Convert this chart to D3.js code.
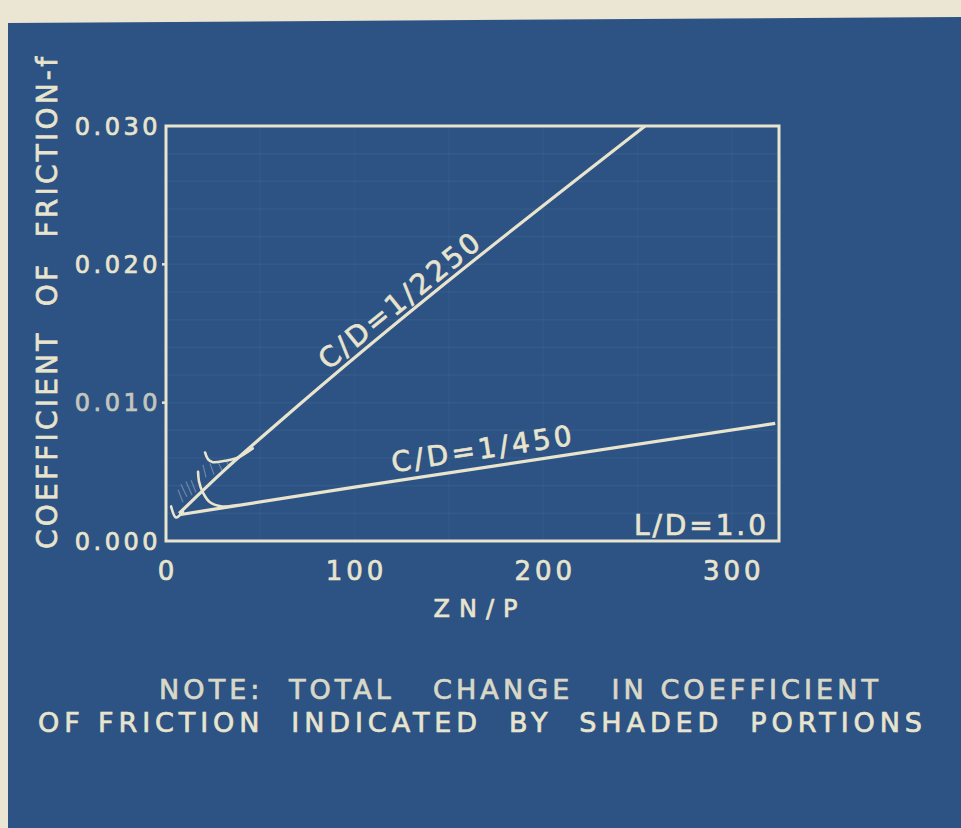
<!DOCTYPE html>
<html lang="en">
<head>
<meta charset="UTF-8">
<title>Coefficient of friction vs ZN/P</title>
<script src="https://d3js.org/d3.v7.min.js"></script>
<style>
  body { margin: 0; background: #ebe5d3; }
  svg { display: block; }
  text { font-family: 'DejaVu Sans', sans-serif; fill: #e8e4ce; stroke: #e8e4ce; stroke-width: 0.7px; }
</style>
</head>
<body>
<svg width="961" height="828"></svg>
<script>
// curve C/D = 1/2250
const zn2250 = [7, 30, 60, 254];
const f2250 = [0.0020, 0.0050, 0.0086, 0.0300];
// curve C/D = 1/450
const zn450 = [7, 30, 100, 323];
const f450 = [0.0019, 0.0024, 0.0039, 0.0085];
// hooks at the low end (total change, shaded)
const hookUpperX = [20.7, 22.3, 24.9, 31.3, 37.6, 46];
const hookUpperY = [0.0064, 0.0059, 0.0057, 0.0058, 0.0060, 0.0067];
const hookLowerX = [17.0, 17.5, 19.6, 23.3, 29.7, 38];
const hookLowerY = [0.0050, 0.0043, 0.0035, 0.0028, 0.0025, 0.0026];
const hookOriginX = [2.7, 5.3, 9.0];
const hookOriginY = [0.0025, 0.0017, 0.0021];
// hatch strokes of the shaded portions
const hatchX1 = [6.4, 7.9, 10.6, 13.3, 19.6, 23.3, 27.6, 31.8];
const hatchY1 = [0.0037, 0.0041, 0.0043, 0.0044, 0.0055, 0.0056, 0.0057, 0.0058];
const hatchX2 = [9.0, 11.1, 13.8, 15.9, 21.2, 25.5, 29.7, 33.4];
const hatchY2 = [0.0028, 0.0032, 0.0033, 0.0035, 0.0046, 0.0048, 0.0051, 0.0054];

const yTicks = [0, 0.010, 0.020, 0.030];
const yTickLabels = ["0.000", "0.010", "0.020", "0.030"];
const xTicks = [0, 100, 200, 300];
const xTickLabels = ["0", "100", "200", "300"];

const svg = d3.select("svg");
const cream = "#e8e4ce";

// paper + blueprint sheet
svg.append("rect").attr("width", 961).attr("height", 828).attr("fill", "#ebe5d3");
svg.append("path")
   .attr("d", "M8,23 L961,17 L961,828 L8,828 Z")
   .attr("fill", "#2d5384");

const plot = { left: 166, right: 779, top: 126, bottom: 541 };
const x = d3.scaleLinear().domain([0, 325]).range([plot.left, plot.right]);
const y = d3.scaleLinear().domain([0, 0.030]).range([plot.bottom, plot.top]);

// faint graph paper grid
const g = svg.append("g");
g.selectAll("line.hgrid")
 .data(d3.range(0.002, 0.030, 0.002))
 .enter().append("line")
 .attr("x1", plot.left).attr("x2", plot.right)
 .attr("y1", d => y(d)).attr("y2", d => y(d))
 .style("stroke", "#8fb0d6").style("stroke-opacity", 0.08).style("stroke-width", 1.5);
g.selectAll("line.vgrid")
 .data(d3.range(50, 325, 50))
 .enter().append("line")
 .attr("y1", plot.top).attr("y2", plot.bottom)
 .attr("x1", d => x(d)).attr("x2", d => x(d))
 .style("stroke", "#8fb0d6").style("stroke-opacity", 0.05).style("stroke-width", 1.5);

// frame
g.append("rect")
 .attr("x", plot.left).attr("y", plot.top)
 .attr("width", plot.right - plot.left).attr("height", plot.bottom - plot.top)
 .attr("fill", "none").style("stroke", cream).style("stroke-width", 3);

// small tick dots on the left edge
g.selectAll("line.ytick")
 .data(yTicks.slice(1, 3))
 .enter().append("line")
 .attr("x1", plot.left - 4).attr("x2", plot.left)
 .attr("y1", d => y(d)).attr("y2", d => y(d))
 .style("stroke", cream).style("stroke-width", 2.5);

// tick labels
g.selectAll("text.ylab")
 .data(yTicks)
 .enter().append("text")
 .attr("x", plot.left - 5)
 .attr("y", d => y(d))
 .attr("dy", "0.36em")
 .attr("text-anchor", "end")
 .style("font-size", "24px")
 .style("letter-spacing", "3.5px")
 .style("opacity", (d, i) => i === 1 ? 0.8 : 1)
 .text((d, i) => yTickLabels[i]);

g.selectAll("text.xlab")
 .data(xTicks)
 .enter().append("text")
 .attr("x", d => x(d) + 2)
 .attr("y", 580)
 .attr("text-anchor", "middle")
 .style("font-size", "26px")
 .style("letter-spacing", "4px")
 .text((d, i) => xTickLabels[i]);

// axis titles
g.append("text")
 .attr("x", 480).attr("y", 617)
 .attr("text-anchor", "middle")
 .style("font-size", "24px")
 .style("letter-spacing", "9px")
 .text("ZN/P");

g.append("text")
 .attr("transform", "translate(57,549) rotate(-90)")
 .attr("textLength", 492)
 .attr("lengthAdjust", "spacing")
 .style("font-size", "28px")
 .style("white-space", "pre")
 .text("COEFFICIENT  OF  FRICTION-f");

// curves
const curve = d3.line().x(d => x(d[0])).y(d => y(d[1])).curve(d3.curveMonotoneX);
const zip = (a, b) => a.map((v, i) => [v, b[i]]);

g.append("path").datum(zip(zn2250, f2250)).attr("d", curve)
 .attr("fill", "none").style("stroke", cream).style("stroke-width", 3.2);
g.append("path").datum(zip(zn450, f450)).attr("d", curve)
 .attr("fill", "none").style("stroke", cream).style("stroke-width", 3.2);

const hookLine = d3.line().x(d => x(d[0])).y(d => y(d[1])).curve(d3.curveCatmullRom);
[[hookUpperX, hookUpperY], [hookLowerX, hookLowerY], [hookOriginX, hookOriginY]].forEach(([hx, hy]) => {
  g.append("path").datum(zip(hx, hy)).attr("d", hookLine)
   .attr("fill", "none").style("stroke", cream).style("stroke-width", 2.6)
   .style("stroke-linecap", "round");
});

g.selectAll("line.hatch")
 .data(hatchX1.map((v, i) => i))
 .enter().append("line")
 .attr("x1", i => x(hatchX1[i])).attr("y1", i => y(hatchY1[i]))
 .attr("x2", i => x(hatchX2[i])).attr("y2", i => y(hatchY2[i]))
 .style("stroke", "#c9d3da").style("stroke-opacity", 0.4).style("stroke-width", 1.2);

// labels along the lines
function lineLabel(label, xs, ys, atX, offset, len) {
  let k = 0;
  while (k < xs.length - 2 && xs[k + 1] < atX) k++;
  const t = (atX - xs[k]) / (xs[k + 1] - xs[k]);
  const atY = ys[k] + t * (ys[k + 1] - ys[k]);
  const ang = Math.atan2(y(ys[k + 1]) - y(ys[k]), x(xs[k + 1]) - x(xs[k])) * 180 / Math.PI;
  g.append("text")
   .attr("transform", `translate(${x(atX)},${y(atY)}) rotate(${ang}) translate(0,${-offset})`)
   .attr("textLength", len)
   .attr("lengthAdjust", "spacing")
   .style("font-size", "28px")
   .text(label);
}
lineLabel("C/D=1/2250", zn2250, f2250, 89, 9, 198);
lineLabel("C/D=1/450", zn450, f450, 121, 9, 182);

g.append("text")
 .attr("x", 766).attr("y", 535)
 .attr("text-anchor", "end")
 .attr("textLength", 132)
 .attr("lengthAdjust", "spacing")
 .style("font-size", "28px")
 .text("L/D=1.0");

// note
g.append("text")
 .attr("x", 159).attr("y", 699)
 .attr("textLength", 719)
 .attr("lengthAdjust", "spacing")
 .style("font-size", "27px")
 .style("white-space", "pre")
 .style("opacity", 0.92)
 .text("NOTE:  TOTAL   CHANGE   IN COEFFICIENT");
g.append("text")
 .attr("x", 38).attr("y", 732)
 .attr("textLength", 884)
 .attr("lengthAdjust", "spacing")
 .style("font-size", "27px")
 .style("white-space", "pre")
 .text("OF FRICTION  INDICATED  BY  SHADED  PORTIONS");
</script>
</body>
</html>
